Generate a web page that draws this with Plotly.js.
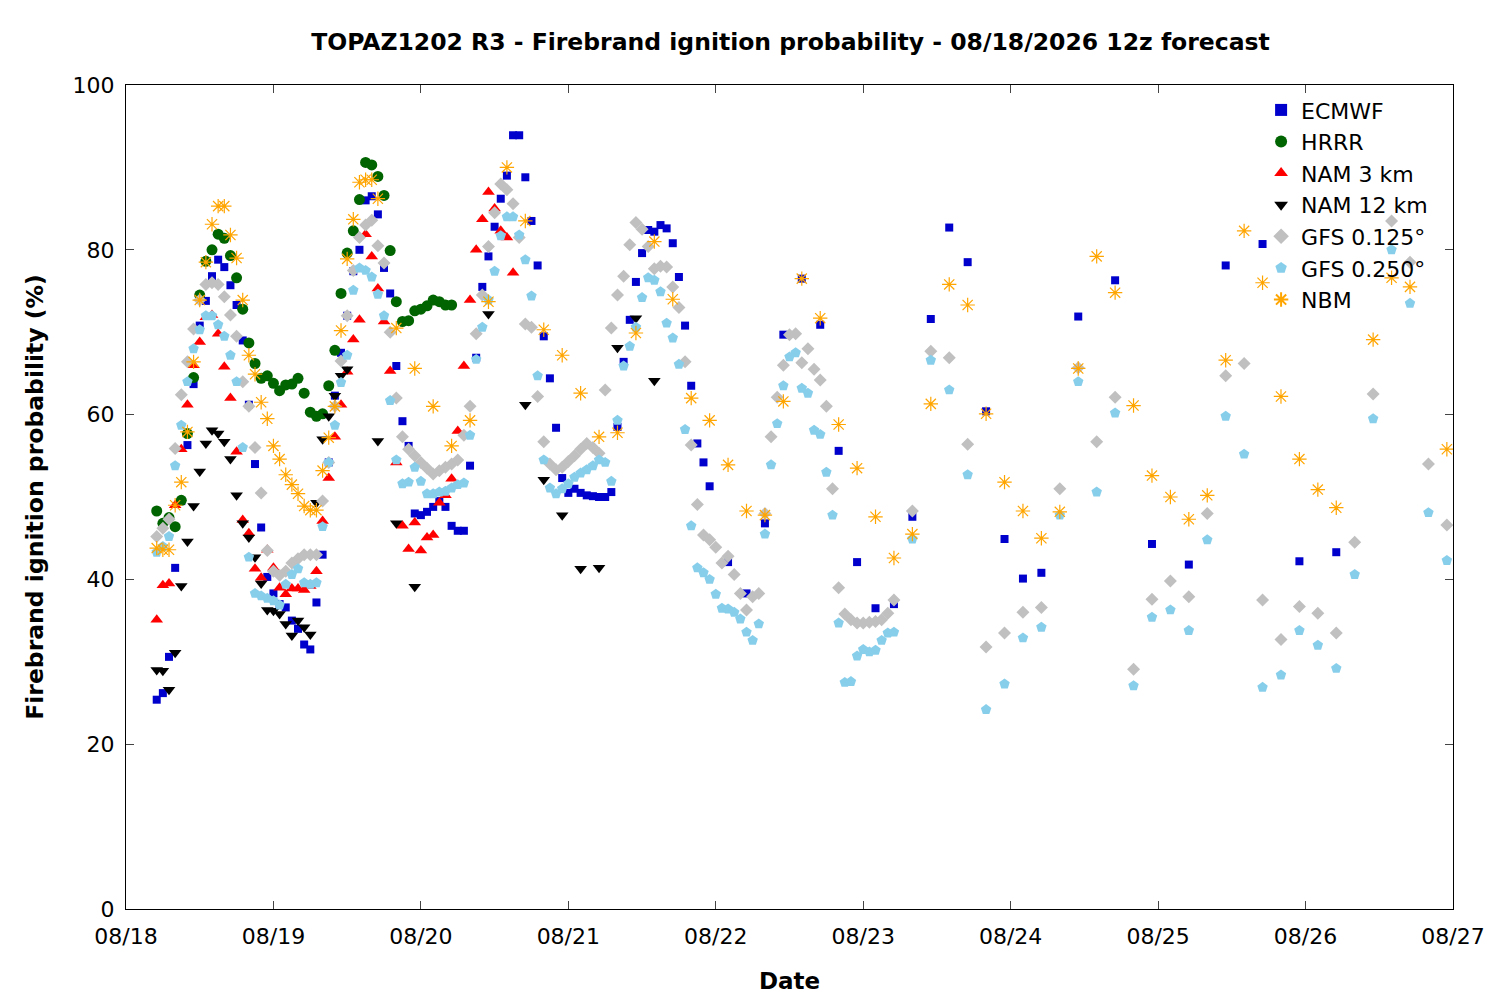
<!DOCTYPE html>
<html>
<head>
<meta charset="utf-8">
<script src="https://cdn.plot.ly/plotly-3.0.1.min.js"></script>
<style>body{margin:0;background:#fff}</style>
</head>
<body>
<div id="chart" style="width:1500px;height:1000px"></div>
<script>
// forecast hours since 08/18 00z, and values (%)
const ecmwfHours = [];
for (let h = 5; h <= 95; h++) ecmwfHours.push(h);
ecmwfHours.push(98, 101, 104, 107, 110, 113, 116, 119, 122, 125, 128, 131, 134, 137, 140, 143, 146, 149,
    155, 161, 167, 173, 179, 185, 191, 197);
const ecmwfValues = [25.4, 26.2, 30.6, 41.4, 49.5, 56.3, 63.7, 70.8, 73.8, 76.8, 78.8, 77.9, 75.7, 73.3, 69, 61.2,
    54, 46.3, 40.3, 38.3, 37, 36.6, 35, 34, 32.1, 31.5, 37.2, 43, 54.2, 62.3, 67.5, 72, 77.4, 80, 86, 86.5,
    84.3, 77.8, 74.7, 65.9, 59.2, 56.2, 48, 47.8, 48.2, 48.8, 49.5, 48.8, 46.5, 45.9, 45.9, 53.8, 66.9, 75.5,
    79.2, 82.8, 86.2, 89, 93.9, 93.9, 88.8, 83.5, 78.1, 69.5, 64.4, 58.4, 52.3, 50.5, 51, 50.5, 50.2, 50.1,
    50, 50, 50.6, 58.5, 66.4, 71.5, 76.1, 79.6, 82.4, 82.2, 83, 82.6, 80.8, 76.7, 70.8, 63.5, 56.5, 54.2, 51.3,
    42.1, 38.3, 46.8, 69.7, 76.5, 70.9, 55.6, 42.1, 36.5, 37, 47.6, 71.6, 82.7, 78.5, 60.4, 44.9, 40.1, 40.8,
    71.9, 76.3, 44.3, 41.8, 78.1, 80.7, 42.2, 43.3];

const hrrrHours = [];
for (let h = 5; h <= 53; h++) hrrrHours.push(h);
const hrrrValues = [48.3, 46.8, 47.5, 46.4, 49.6, 57.7, 64.5, 74.5, 78.6, 80, 81.9, 81.4, 79.3, 76.6, 72.8, 68.7,
    66.2, 64.4, 64.7, 63.8, 62.9, 63.6, 63.7, 64.4, 62.6, 60.3, 59.8, 60.1, 63.5, 67.8, 74.7, 79.6, 82.3, 86.1,
    90.6, 90.3, 88.9, 86.6, 79.9, 73.7, 71.3, 71.4, 72.6, 72.8, 73.2, 73.9, 73.7, 73.3, 73.3];

const nam3Hours = [];
for (let h = 5; h <= 63; h++) nam3Hours.push(h);
const nam3Values = [35.1, 39.3, 39.5, 49, 55.8, 61.2, 66, 68.8, 71.8, 72.1, 69.8, 65.8, 62, 55.5, 47.2, 45.6,
    41.3, 40.2, 43.6, 41.4, 39, 38.2, 38.9, 38.9, 38.7, 39.2, 41, 47.1, 52.3, 57.3, 61.2, 65.2, 69.1, 71.5,
    81.9, 79.2, 75.3, 71.3, 65.3, 54.2, 46.5, 43.7, 46.9, 43.5, 45.1, 45.4, 49.3, 50.2, 52.2, 58, 65.9, 73.9,
    80, 83.7, 87, 85, 82.3, 81.5, 77.2];

const nam12Hours = [];
for (let h = 5; h <= 36; h++) nam12Hours.push(h);
nam12Hours.push(41, 44, 47, 59, 65, 68, 71, 74, 77, 80, 83, 86);
const nam12Values = [29, 28.9, 26.6, 31.1, 39.2, 44.6, 48.9, 53.1, 56.5, 58.1, 57.7, 56.7, 54.6, 50.2, 46.8,
    45.1, 42.7, 39.5, 36.3, 36.2, 35.8, 34.6, 33.2, 35, 34.2, 33.3, 49.3, 57, 59.8, 62.3, 64.7, 65.5,
    56.8, 46.8, 39.1, 72.2, 61.2, 52.1, 47.8, 41.3, 41.4, 68.1, 71.7, 64.1];

const gfs125Hours = [];
for (let h = 5; h <= 125; h++) gfs125Hours.push(h);
for (let h = 128; h <= 215; h += 3) gfs125Hours.push(h);
const gfs125Values = [45.2, 46.2, 47.3, 55.9, 62.4, 66.4, 70.4, 73.9, 75.8, 76, 75.8, 74.3, 72.1, 69.5, 64, 61,
    56, 50.5, 43.5, 41, 40.5, 41, 42, 42.5, 43, 43, 43, 49.5, 54.2, 61, 66.5, 72, 77.5, 81.5, 83, 83.6, 80.5,
    78.4, 70, 62, 57.3, 55.8, 55, 54.2, 53.5, 52.8, 53.2, 53.6, 54, 54.5, 57.5, 61, 69.8, 74.5, 80.4, 84.5,
    88, 87.3, 85.6, 81.5, 71, 70.6, 62.2, 56.7, 54, 53.3, 53.6, 54.3, 55, 55.8, 56.5, 56, 55.3, 63, 70.5, 74.5,
    76.8, 80.6, 83.3, 82.5, 80.4, 77.7, 78, 77.9, 75.5, 73, 66.4, 56.3, 49.1, 45.4, 44.8, 43.9, 42, 42.8, 40.6,
    38.3, 36.3, 37.9, 38.3, 48, 57.3, 62.1, 66, 69.7, 69.8, 66.3, 68, 65.5, 64.2, 61, 51, 39, 35.8, 35.1, 34.7,
    34.7, 34.8, 34.9, 35.1, 35.9, 37.5,
    48.3, 67.7, 66.9, 56.4, 31.8, 33.5, 36, 36.6, 51, 65.7, 56.7, 62.1, 29.1, 37.6, 39.8, 37.9, 48, 64.7,
    66.2, 37.5, 32.7, 36.7, 35.9, 33.5, 44.5, 62.5, 83.5, 78.5, 54, 46.6];

const gfs250Hours = gfs125Hours.slice();
const gfs250Values = [43.3, 44, 45.2, 53.8, 58.7, 64, 68, 70.3, 72, 72, 70.9, 69.5, 67.2, 64, 56, 42.7, 38.3, 38,
    37.7, 37.4, 36.9, 39.4, 40.6, 41.3, 39.6, 39.4, 39.6, 46.4,
    54.2, 58.7, 63.9, 67.2, 75.1, 77.8, 77.5, 76.7, 74.6, 72, 61.7, 54.5, 51.6, 51.8, 53.6, 51.9, 50.4, 50.4,
    50.6, 50.7, 51.1, 51.5, 51.7, 57.5, 66.7, 70.6, 73.9, 77.4, 81.7, 84, 84, 81.8, 78.8, 74.4, 64.7, 54.5,
    51.1, 50.4, 51, 51.6, 52.4, 52.9, 53.3, 53.8, 54.5, 54.2, 51.9, 59.3, 65.9, 68.3, 70.6, 74.2, 76.6, 76.3,
    74.9, 71.1,
    69.3, 66.1, 58.2, 46.5, 41.4, 40.8, 40, 38.2, 36.5, 36.4, 36, 35.2, 33.6, 32.6, 34.6, 45.5, 53.9, 58.9, 63.5,
    67, 67.5, 63.2, 62.6, 58.1, 57.6, 53, 47.8, 34.7, 27.5, 27.6, 30.7, 31.5, 31.2, 31.4, 32.6, 33.5, 33.6,
    44.9, 66.6, 63, 52.7, 24.2, 27.3, 32.9, 34.2, 47.8, 64, 50.6, 60.2, 27.1, 35.4, 36.3, 33.8, 44.8, 59.8,
    55.2, 26.9, 28.4, 33.8, 32, 29.2, 40.6, 59.5, 80, 73.5, 48.1, 42.3];

const nbmHours = [];
for (let h = 5; h <= 41; h++) nbmHours.push(h);
for (let h = 44; h <= 215; h += 3) nbmHours.push(h);
const nbmValues = [43.8, 43.6, 43.6, 49, 51.8, 57.9, 66.4, 73.9, 78.5, 83.1, 85.3, 85.3, 81.8, 79, 73.9, 67.2,
    64.9, 61.5, 59.5, 56.2, 54.6, 52.7, 51.5, 50.4, 48.9, 48.4, 48.4, 53.2, 57.2, 61, 70.2, 78.9, 83.7, 88.2,
    88.5, 88.5, 86.2,
    70.5, 65.6, 61, 56.2, 59.3, 73.7, 90, 83.5, 70.3, 67.2, 62.6, 57.3, 57.8, 69.9, 81, 74, 62, 59.3, 53.9,
    48.3, 47.8, 61.6, 76.5, 71.7, 58.8, 53.5, 47.6, 42.6, 45.5, 61.3, 75.8, 73.3, 60.1, 51.8, 48.3, 45, 48.2,
    65.6, 79.2, 74.8, 61.1, 52.6, 50, 47.3, 50.2, 66.6, 82.3, 76, 62.2, 54.6, 50.9, 48.7, null, 69.1, 76.6,
    75.5, null, 55.8];

const seriesNames = ['ECMWF', 'HRRR', 'NAM 3 km', 'NAM 12 km', 'GFS 0.125°', 'GFS 0.250°', 'NBM'];

const start = Date.UTC(2026, 7, 18);
function toDates(hours) {
    return hours.map(h => new Date(start + h * 3600000).toISOString().slice(0, 19));
}

function trace(name, hours, values, marker) {
    return {x: toDates(hours), y: values, name: name, type: 'scatter', mode: 'markers', marker: marker};
}

const data = [
    trace(seriesNames[0], ecmwfHours, ecmwfValues, {symbol: 'square', size: 8, color: '#0000cc'}),
    trace(seriesNames[1], hrrrHours, hrrrValues, {symbol: 'circle', size: 11, color: '#006400'}),
    trace(seriesNames[2], nam3Hours, nam3Values, {symbol: 'triangle-up', size: 11, color: '#ff0000'}),
    trace(seriesNames[3], nam12Hours, nam12Values, {symbol: 'triangle-down', size: 11, color: '#000000'}),
    trace(seriesNames[4], gfs125Hours, gfs125Values, {symbol: 'diamond', size: 10, color: '#c0c0c0'}),
    trace(seriesNames[5], gfs250Hours, gfs250Values, {symbol: 'pentagon', size: 11, color: '#87ceeb'}),
    trace(seriesNames[6], nbmHours, nbmValues, {symbol: 'asterisk-open', size: 12, color: '#ffa500', line: {width: 1.2, color: '#ffa500'}})
];

const layout = {
    width: 1500,
    height: 1000,
    font: {family: 'DejaVu Sans', size: 22, color: '#000'},
    title: {text: '<b>TOPAZ1202 R3 - Firebrand ignition probability - 08/18/2026 12z forecast</b>',
        font: {size: 23.5}, x: 0.527, y: 0.966},
    margin: {l: 126, r: 47, t: 85, b: 91},
    showlegend: true,
    legend: {x: 0.985, y: 0.995, xanchor: 'right', yanchor: 'top', bgcolor: 'rgba(0,0,0,0)',
        font: {size: 22}, tracegroupgap: 0, itemsizing: 'constant'},
    xaxis: {
        type: 'date',
        range: ['2026-08-18', '2026-08-27'],
        dtick: 86400000,
        tickformat: '%m/%d',
        ticks: 'inside', ticklen: 8, showline: true, mirror: 'ticks', linecolor: '#000',
        ticklabelstandoff: 8,
        showgrid: false, zeroline: false,
        title: {text: '<b>Date</b>', font: {size: 23}, standoff: 24},
        fixedrange: true,
    },
    yaxis: {
        range: [0, 100],
        dtick: 20,
        ticks: 'inside', ticklen: 8, showline: true, mirror: 'ticks', linecolor: '#000',
        ticklabelstandoff: 6,
        showgrid: false, zeroline: false,
        title: {text: '<b>Firebrand ignition probability (%)</b>', font: {size: 23.5}, standoff: 22},
        fixedrange: true,
    },
    plot_bgcolor: '#fff',
    paper_bgcolor: '#fff',
};

Plotly.newPlot('chart', data, layout, {displayModeBar: false, staticPlot: true});
</script>
</body>
</html>
